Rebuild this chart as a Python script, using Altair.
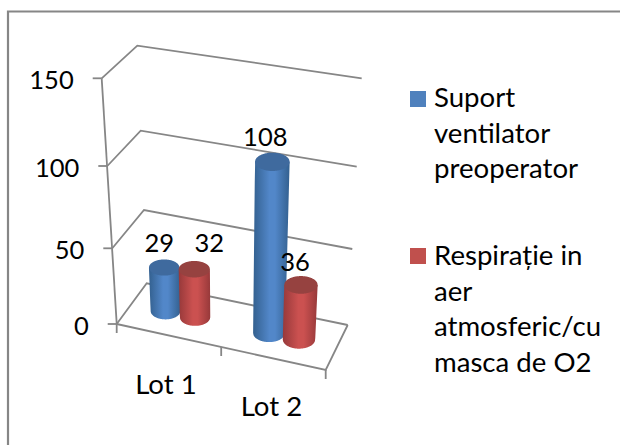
import numpy as np
import pandas as pd
import altair as alt

# Chart content
categories = ["Lot 1", "Lot 2"]
series_names = ["Suport ventilator preoperator", "Respirație in aer atmosferic/cu masca de O2"]
series_a = [29, 108]
series_b = [32, 36]
value_ticks = [0, 50, 100, 150]
legend_a = ["Suport", "ventilator", "preoperator"]
legend_b = ["Respirație in", "aer", "atmosferic/cu", "masca de O2"]

# Oblique view of the plot box: where each corner lands at each gridline level
LEVELS = [0, 50, 100, 150]
FRONT_L = ([116.7, 112.3, 107.3, 101.7], [324.0, 248.3, 166.0, 78.3])
BACK_L = ([146.7, 144.0, 140.7, 137.3], [283.3, 210.0, 130.7, 45.7])
BACK_R = ([347.7, 352.3, 356.7, 361.7], [325.0, 249.0, 166.7, 78.3])
FRONT_R = ([325.7, 329.4, 333.3, 337.2], [370.0, 294.0, 212.0, 124.0])
SCALE = [1.0, 1.039, 1.08, 1.1255]


def corner(c, v):
    return np.array([np.interp(v, LEVELS, c[0]), np.interp(v, LEVELS, c[1])])


def project(u, w, v):
    """Map (across, depth, value) to the drawing plane."""
    return ((1 - u) * (1 - w) * corner(FRONT_L, v) + u * (1 - w) * corner(FRONT_R, v)
            + (1 - u) * w * corner(BACK_L, v) + u * w * corner(BACK_R, v))


COL_A = dict(edge="#33608f", mid="#5287c9", top="#3f6a9e", key="#4f81bd")
COL_B = dict(edge="#97393a", mid="#cb5150", top="#964240", key="#c0504d")
GRID = "#868686"
FONT = "Lato"
FS_TEXT = 27.6
FS_NUM = 25.5
X = alt.Scale(domain=[0, 620], range=[0, 620])
Y = alt.Scale(domain=[0, 445], range=[0, 445])


def x_enc(f="x"):
    return alt.X(f"{f}:Q", scale=X, axis=None)


def y_enc(f="y"):
    return alt.Y(f"{f}:Q", scale=Y, axis=None)


def span_frame(poly, n=90):
    """Turn a convex outline into x / y / y2 columns for an area mark."""
    poly = np.asarray(poly)
    xs = np.linspace(poly[:, 0].min() + 1e-6, poly[:, 0].max() - 1e-6, n)
    rows = []
    for x in xs:
        ys = []
        for a, b in zip(poly, np.roll(poly, -1, axis=0)):
            lo, hi = min(a[0], b[0]), max(a[0], b[0])
            if lo <= x <= hi and hi > lo:
                ys.append(a[1] + (x - a[0]) / (b[0] - a[0]) * (b[1] - a[1]))
        if ys:
            rows.append(dict(x=x, y=min(ys), y2=max(ys)))
    return pd.DataFrame(rows)


def ellipse(c, rx, ry):
    t = np.linspace(0, 2 * np.pi, 72, endpoint=False)
    return np.column_stack([c[0] + rx * np.cos(t), c[1] + ry * np.sin(t)])


def cylinder(u, value, col):
    base = project(u, 0.5, 0)
    top = project(u, 0.5, value)
    rx0 = 14.6 + 2.0 * u
    rx1 = rx0 * np.interp(value, LEVELS, SCALE)
    ry0, ry1 = rx0 * 0.57, rx1 * 0.53
    t = np.linspace(0, np.pi, 40)
    arc = np.column_stack([base[0] + rx0 * np.cos(t), base[1] + ry0 * np.sin(t)])
    body = np.vstack([[top[0] - rx1, top[1]], [top[0] + rx1, top[1]], arc])
    grad = alt.Gradient(
        gradient="linear", x1=0, x2=1, y1=0, y2=0,
        stops=[
            alt.GradientStop(color=col["edge"], offset=0),
            alt.GradientStop(color=col["mid"], offset=0.45),
            alt.GradientStop(color=col["mid"], offset=0.6),
            alt.GradientStop(color=col["edge"], offset=1),
        ],
    )
    side = alt.Chart(span_frame(body)).mark_area(color=grad, interpolate="linear").encode(
        x=x_enc(), y=y_enc(), y2="y2:Q")
    cap = alt.Chart(span_frame(ellipse(top, rx1, ry1))).mark_area(color=col["top"]).encode(
        x=x_enc(), y=y_enc(), y2="y2:Q")
    return [side, cap], top


# Wall and floor lines
segments = []


def add_line(points):
    sid = len(segments)
    segments.append(pd.DataFrame(
        {"x": [p[0] for p in points], "y": [p[1] for p in points],
         "i": range(len(points)), "seg": sid}))


for v in value_ticks:
    add_line([project(0, 0, v), project(0, 1, v), project(1, 1, v)])
    f = project(0, 0, v)
    add_line([f - [9, 0], f])
add_line([project(0, 0, 0), project(0, 0, 150)])
add_line([project(0, 0, 0), project(1, 0, 0), project(1, 1, 0)])
for u in [0, 0.5, 1]:
    p = project(u, 0, 0)
    add_line([p, p + [0, 9]])

frame_df = pd.DataFrame({"x": [620, 8, 8], "y": [11.5, 11.5, 445], "i": [0, 1, 2]})
frame = alt.Chart(frame_df).mark_line(color="#868686", strokeWidth=2.2).encode(
    x=x_enc(), y=y_enc(), order="i:Q")

lines = alt.Chart(pd.concat(segments)).mark_line(color=GRID, strokeWidth=1.8).encode(
    x=x_enc(), y=y_enc(), detail="seg:N", order="i:Q")

# Cylinders, back to front within each lot
positions = [(0.165, series_a[0], COL_A), (0.309, series_b[0], COL_B),
             (0.67, series_a[1], COL_A), (0.816, series_b[1], COL_B)]
label_shift = [(-5, -23.5), (15, -25), (-7, -23.5), (-6, -22)]
layers = [frame, lines]
label_rows = []
for (u, value, col), (dx, dy) in zip(positions, label_shift):
    parts, top = cylinder(u, value, col)
    layers += parts
    label_rows.append(dict(x=top[0] + dx, y=top[1] + dy, t=str(value)))


def text_layer(rows, size, align="center"):
    return alt.Chart(pd.DataFrame(rows)).mark_text(
        font=FONT, fontSize=size, color="#000000", align=align, baseline="middle"
    ).encode(x=x_enc(), y=y_enc(), text="t:N")


layers.append(text_layer(label_rows, FS_NUM))

# Value axis labels
layers.append(text_layer(
    [dict(x=project(0, 0, v)[0] - 28, y=project(0, 0, v)[1] + 3, t=str(v)) for v in value_ticks],
    FS_NUM, align="right"))

# Category labels
cat_shift = [(-3, 50), (-2, 49)]
layers.append(text_layer(
    [dict(x=project(u, 0, 0)[0] + d[0], y=project(u, 0, 0)[1] + d[1], t=c)
     for c, u, d in zip(categories, [0.25, 0.75], cat_shift)], FS_TEXT))

# Legend
key_df = pd.DataFrame({"x": [410, 410], "x2": [426, 426], "y": [91, 248], "y2": [107, 264],
                       "s": series_names})
layers.append(alt.Chart(key_df).mark_rect().encode(
    x=x_enc(), x2="x2:Q", y=y_enc(), y2="y2:Q",
    color=alt.Color("s:N", scale=alt.Scale(domain=series_names,
                                           range=[COL_A["key"], COL_B["key"]]), legend=None)))
legend_rows = [dict(x=434, y=99 + 35.5 * i, t=s) for i, s in enumerate(legend_a)]
legend_rows += [dict(x=434, y=257 + 35.7 * i, t=s) for i, s in enumerate(legend_b)]
layers.append(text_layer(legend_rows, FS_TEXT, align="left"))

chart = alt.layer(*layers).properties(
    width=620, height=445, padding=0,
    autosize=alt.AutoSizeParams(type="none"),
    background="#ffffff",
).configure_view(stroke=None)

chart.save("out.html", embed_options={"renderer": "svg", "actions": False})
